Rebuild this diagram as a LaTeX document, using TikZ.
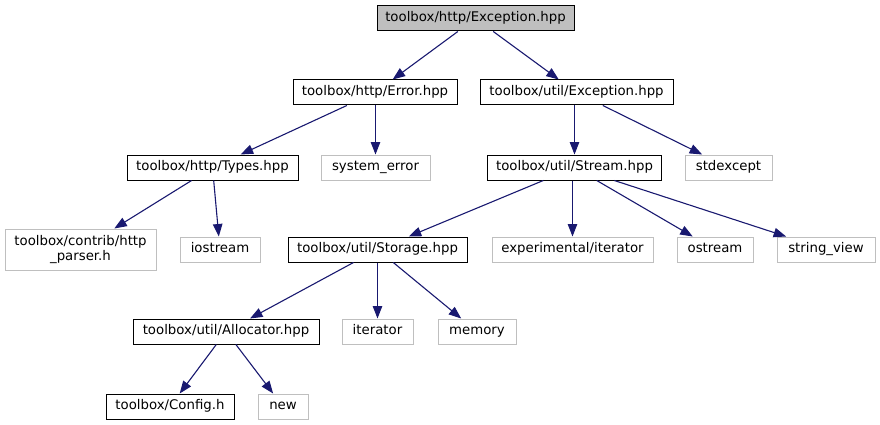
\documentclass[tikz,border=0pt]{standalone}
\usepackage{fontspec}
\setmainfont{DejaVu Sans}
\usetikzlibrary{arrows.meta}
\definecolor{edgeblue}{HTML}{191970}
\definecolor{grayline}{HTML}{BFBFBF}
\definecolor{topfill}{HTML}{BFBFBF}
\begin{document}
\begin{tikzpicture}[x=1pt,y=-1pt,
  every node/.style={font=\fontsize{13.3}{15.5}\selectfont, inner sep=0pt, minimum height=25pt, line width=1pt, align=center, text height=9.8pt, text depth=3pt},
  hbox/.style={draw=black},
  xbox/.style={draw=grayline},
  dep/.style={draw=edgeblue, line width=1.1pt, -{Triangle[length=12.5pt,width=9.5pt]}}]
\useasboundingbox (0,0) rectangle (880,425);
% row 1
\node[hbox, fill=topfill, minimum width=197pt] (top) at (475.5,18.5) {toolbox/http/Exception.hpp};
% row 2
\node[hbox, minimum width=164pt] (err) at (375,92.5) {toolbox/http/Error.hpp};
\node[hbox, minimum width=193pt] (uex) at (576.5,92.5) {toolbox/util/Exception.hpp};
% row 3
\node[hbox, minimum width=171pt] (types) at (212.5,167.5) {toolbox/http/Types.hpp};
\node[xbox, minimum width=109pt] (syserr) at (375.5,167.5) {system\_error};
\node[hbox, minimum width=174pt] (stream) at (574.5,167.5) {toolbox/util/Stream.hpp};
\node[xbox, minimum width=87pt] (stdex) at (728.5,167.5) {stdexcept};
% row 4
\node[xbox, minimum width=151pt, minimum height=41pt, text height=, text depth=] (hp) at (80.5,249.5) {toolbox/contrib/http\\\_parser.h};
\node[xbox, minimum width=80pt] (ios) at (220,249.5) {iostream};
\node[hbox, minimum width=179pt] (stor) at (377.5,249.5) {toolbox/util/Storage.hpp};
\node[xbox, minimum width=161pt] (expit) at (572.5,249.5) {experimental/iterator};
\node[xbox, minimum width=76pt] (ostr) at (715,249.5) {ostream};
\node[xbox, minimum width=98pt] (sview) at (826,249.5) {string\_view};
% row 5
\node[hbox, minimum width=186pt] (alloc) at (226,331.5) {toolbox/util/Allocator.hpp};
\node[xbox, minimum width=71pt] (iter) at (377.5,331.5) {iterator};
\node[xbox, minimum width=78pt] (mem) at (477,331.5) {memory};
% row 6
\node[hbox, minimum width=128pt] (conf) at (170,406.5) {toolbox/Config.h};
\node[xbox, minimum width=50pt] (new) at (283,406.5) {new};
% edges
\draw[dep] (top) -- (err);
\draw[dep] (top) -- (uex);
\draw[dep] (err) -- (types);
\draw[dep] (err.south -| syserr) -- (syserr);
\draw[dep] (uex.south -| stream) -- (stream);
\draw[dep] (uex) -- (stdex);
\draw[dep] (types) -- (hp);
\draw[dep] (types) -- (ios);
\draw[dep] (stream) -- (stor);
\draw[dep] (stream.south -| expit) -- (expit);
\draw[dep] (stream) -- (ostr);
\draw[dep] (stream) -- (sview);
\draw[dep] (stor) -- (alloc);
\draw[dep] (stor.south -| iter) -- (iter);
\draw[dep] (stor) -- (mem);
\draw[dep] (alloc) -- (conf);
\draw[dep] (alloc) -- (new);
\end{tikzpicture}
\end{document}
